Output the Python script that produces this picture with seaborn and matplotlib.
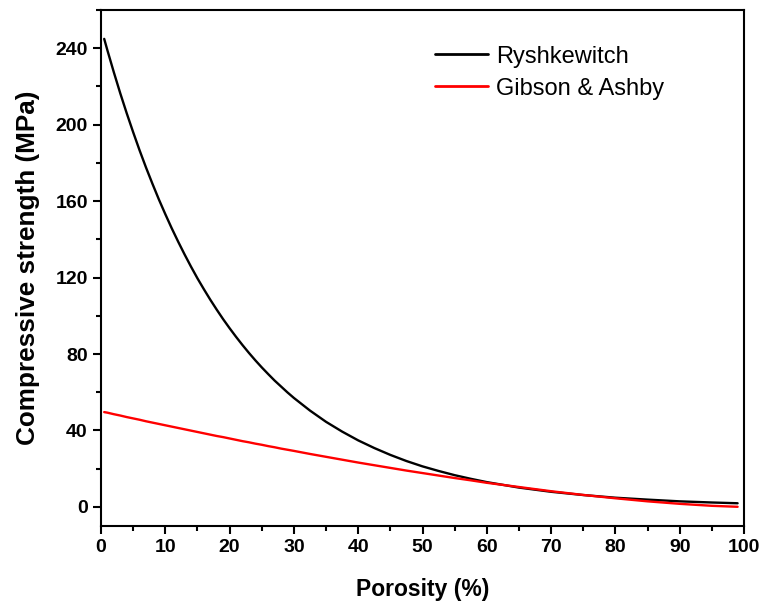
import matplotlib
matplotlib.use("Agg")
import matplotlib.pyplot as plt
from matplotlib.ticker import MultipleLocator
import seaborn as sns
import pandas as pd

porosity = [0.5, 1, 2, 3, 4, 5, 6, 7, 8, 9, 10, 11, 12, 13, 14, 15, 16, 17, 18, 19,
            20, 21, 22, 23, 24, 25, 26, 27, 28, 29, 30, 32.5, 35, 37.5, 40, 42.5, 45,
            47.5, 50, 52.5, 55, 57.5, 60, 65, 70, 75, 80, 85, 90, 95, 99]
ryshkewitch = [244.9, 238.9, 227.4, 216.4, 206.0, 196.1, 186.6, 177.6, 169.1, 160.9,
               153.2, 145.8, 138.8, 132.1, 125.7, 119.6, 113.9, 108.4, 103.2, 98.2,
               93.5, 89.0, 84.7, 80.6, 76.7, 73.0, 69.5, 66.1, 63.0, 59.9,
               57.0, 50.4, 44.5, 39.4, 34.8, 30.8, 27.2,
               24.0, 21.2, 18.8, 16.6, 14.7, 12.96, 10.1, 7.9, 6.2, 4.8, 3.8, 2.9, 2.3, 1.9]
gibson_ashby = [49.6, 49.3, 48.5, 47.8, 47.0, 46.3, 45.6, 44.8, 44.1, 43.4,
                42.7, 42.0, 41.3, 40.6, 39.9, 39.2, 38.5, 37.8, 37.1, 36.5,
                35.8, 35.1, 34.4, 33.8, 33.1, 32.5, 31.8, 31.2, 30.5, 29.9,
                29.3, 27.7, 26.2, 24.7, 23.2, 21.8, 20.4,
                19.0, 17.7, 16.4, 15.1, 13.9, 12.6, 10.4, 8.2, 6.25, 4.5, 2.9, 1.6, 0.56, 0.05]
series_names = ["Ryshkewitch", "Gibson & Ashby"]
series_colors = ["#000000", "#ff0000"]
x_ticks = [0, 10, 20, 30, 40, 50, 60, 70, 80, 90, 100]
y_ticks = [0, 40, 80, 120, 160, 200, 240]

df = pd.DataFrame({
    "Porosity": porosity * 2,
    "Strength": ryshkewitch + gibson_ashby,
    "Model": [series_names[0]] * len(porosity) + [series_names[1]] * len(porosity),
})

sns.set_style("ticks")
plt.rcParams["font.family"] = ["Liberation Sans", "DejaVu Sans"]
plt.rcParams["text.color"] = "black"
plt.rcParams["axes.labelcolor"] = "black"
plt.rcParams["xtick.color"] = "black"
plt.rcParams["ytick.color"] = "black"

fig = plt.figure(figsize=(7.61, 6.03), dpi=100)
ax = fig.add_axes([0.1327, 0.1277, 0.845, 0.8557])

sns.lineplot(data=df, x="Porosity", y="Strength", hue="Model",
             palette=dict(zip(series_names, series_colors)), linewidth=1.7,
             ax=ax, sort=False)

ax.set_xlim(0, 100)
ax.set_ylim(-10, 260)
ax.set_xticks(x_ticks)
ax.set_yticks(y_ticks)
ax.xaxis.set_minor_locator(MultipleLocator(5))
ax.yaxis.set_minor_locator(MultipleLocator(20))
ax.tick_params(axis="both", which="major", direction="out", length=6, width=1.5,
               labelsize=14, colors="black", top=False, right=False)
ax.tick_params(axis="both", which="minor", direction="out", length=3.5, width=1.5,
               top=False, right=False)
for lab in ax.get_xticklabels() + ax.get_yticklabels():
    lab.set_fontweight("bold")
for sp in ax.spines.values():
    sp.set_visible(True)
    sp.set_linewidth(1.5)
    sp.set_color("black")

ax.set_xlabel("Porosity (%)", fontsize=16.5, fontweight="bold", labelpad=16)
ax.set_ylabel("Compressive strength (MPa)", fontsize=18.8, fontweight="bold", labelpad=11)

leg = ax.legend(loc="upper right", bbox_to_anchor=(0.909, 0.972), frameon=False,
                fontsize=17, handlelength=2.25, handletextpad=0.35, labelspacing=0.42)
for line in leg.get_lines():
    line.set_linewidth(2)

fig.savefig("out.png", dpi=100)
